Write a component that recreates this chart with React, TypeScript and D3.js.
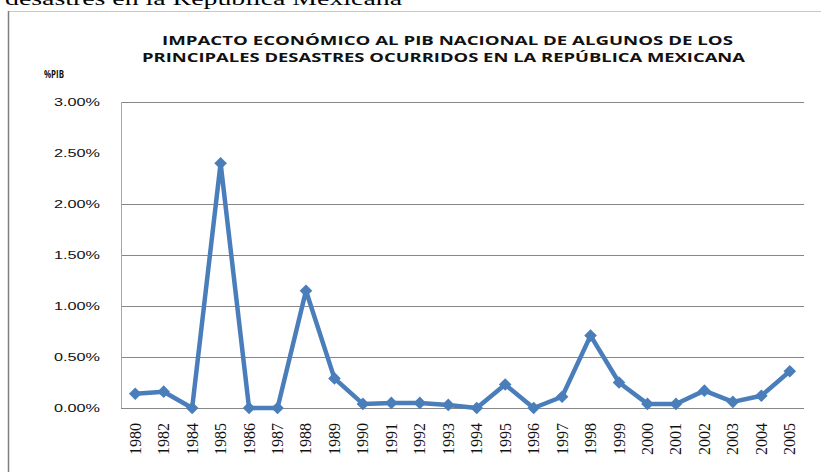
import React, { useEffect, useRef } from 'react';
import * as d3 from 'd3';

const years = ['1980', '1982', '1984', '1985', '1986', '1987', '1988', '1989', '1990', '1991', '1992', '1993', '1994', '1995', '1996', '1997', '1998', '1999', '2000', '2001', '2002', '2003', '2004', '2005'];
const pibImpact = [0.14, 0.16, 0.0, 2.4, 0.0, 0.0, 1.15, 0.29, 0.04, 0.05, 0.05, 0.03, 0.0, 0.23, 0.0, 0.11, 0.71, 0.25, 0.04, 0.04, 0.17, 0.06, 0.12, 0.36];
const yTicks = [0, 0.5, 1.0, 1.5, 2.0, 2.5, 3.0];
const gridTicks = [0.5, 1.0, 1.5, 2.0, 3.0];
const titleLines = [
  'IMPACTO ECONÓMICO AL PIB NACIONAL DE ALGUNOS DE LOS',
  'PRINCIPALES DESASTRES  OCURRIDOS EN LA REPÚBLICA MEXICANA',
];

const App = () => {
  const ref = useRef<SVGSVGElement | null>(null);

  useEffect(() => {
    if (!ref.current) return;
    const svg = d3.select(ref.current);
    svg.selectAll('*').remove();

    const left = 121, right = 804, top = 102, bottom = 408;
    const blue = '#4a7ebb';

    // caption text cut off above the frame
    svg.append('text')
      .attr('x', 5).attr('y', 4.5)
      .attr('textLength', 397).attr('lengthAdjust', 'spacingAndGlyphs')
      .style('font-family', '"Liberation Serif", "Times New Roman", serif')
      .style('font-size', '18px')
      .style('fill', '#000')
      .text('desastres en la República Mexicana');

    // frame
    svg.append('line').attr('x1', 8).attr('x2', 821).attr('y1', 11.5).attr('y2', 11.5)
      .attr('stroke', '#c8c8c8').attr('stroke-width', 1);
    svg.append('line').attr('x1', 8.5).attr('x2', 8.5).attr('y1', 11).attr('y2', 472)
      .attr('stroke', '#7f7f7f').attr('stroke-width', 1.5);

    // title
    const tl = [
      { y: 44.5, x1: 162, x2: 733 },
      { y: 61.5, x1: 142, x2: 745 },
    ];
    titleLines.forEach((t, i) => {
      svg.append('text')
        .attr('x', tl[i].x1).attr('y', tl[i].y)
        .attr('textLength', tl[i].x2 - tl[i].x1).attr('lengthAdjust', 'spacingAndGlyphs')
        .style('font-family', '"Open Sans", "DejaVu Sans", sans-serif')
        .style('font-weight', 'bold')
        .style('font-size', '12px')
        .style('fill', '#111')
        .text(t);
    });

    svg.append('text')
      .attr('x', 44).attr('y', 78)
      .attr('textLength', 20).attr('lengthAdjust', 'spacingAndGlyphs')
      .style('font-family', '"Open Sans", "DejaVu Sans", sans-serif')
      .style('font-weight', 'bold')
      .style('font-size', '11px')
      .style('fill', '#111')
      .text('%PIB');

    const x = d3.scaleBand<string>().domain(years).range([left, right]);
    const y = d3.scaleLinear().domain([0, 3]).range([bottom, top]);
    const cx = (i: number) => (x(years[i]) as number) + x.bandwidth() / 2;

    // gridlines (2.50% has none in the original)
    svg.append('g').selectAll('line').data(gridTicks).enter().append('line')
      .attr('x1', left).attr('x2', right)
      .attr('y1', d => Math.round(y(d)) + 0.5).attr('y2', d => Math.round(y(d)) + 0.5)
      .attr('stroke', '#878787').attr('stroke-width', 1);

    // axes
    svg.append('line').attr('x1', left + 0.5).attr('x2', left + 0.5).attr('y1', top).attr('y2', bottom)
      .attr('stroke', '#a6a6a6').attr('stroke-width', 1);
    svg.append('line').attr('x1', left).attr('x2', right).attr('y1', bottom + 0.5).attr('y2', bottom + 0.5)
      .attr('stroke', '#878787').attr('stroke-width', 1);

    // y tick labels
    svg.append('g').selectAll('text').data(yTicks).enter().append('text')
      .attr('x', 54).attr('y', d => y(d) + 4)
      .attr('textLength', 46).attr('lengthAdjust', 'spacingAndGlyphs')
      .style('font-family', '"Liberation Sans", Arial, sans-serif')
      .style('font-size', '11px')
      .style('fill', '#111')
      .text(d => d3.format('.2f')(d) + '%');

    // x tick labels, rotated
    svg.append('g').selectAll('text').data(years).enter().append('text')
      .attr('transform', (d, i) => `translate(${cx(i) + 5.5}, 423) rotate(-90)`)
      .attr('text-anchor', 'end')
      .style('font-family', '"Liberation Serif", "Times New Roman", serif')
      .style('font-size', '16px')
      .style('fill', '#111')
      .text(d => d);

    // series line
    const line = d3.line<number>()
      .x((d, i) => cx(i))
      .y(d => y(d));
    svg.append('path')
      .datum(pibImpact)
      .attr('d', line)
      .attr('fill', 'none')
      .attr('stroke', blue)
      .attr('stroke-width', 4.5)
      .attr('stroke-linejoin', 'round');

    // diamond markers
    const marker = d3.symbol().type(d3.symbolSquare).size(80)() as string;
    svg.append('g').selectAll('path').data(pibImpact).enter().append('path')
      .attr('transform', (d, i) => `translate(${cx(i)}, ${y(d)}) rotate(45)`)
      .attr('d', marker)
      .attr('fill', blue);
  }, []);

  return (
    <svg
      ref={ref}
      width={821}
      height={472}
      style={{ position: 'absolute', left: 0, top: 0, background: '#fff' }}
    />
  );
};

export default App;
